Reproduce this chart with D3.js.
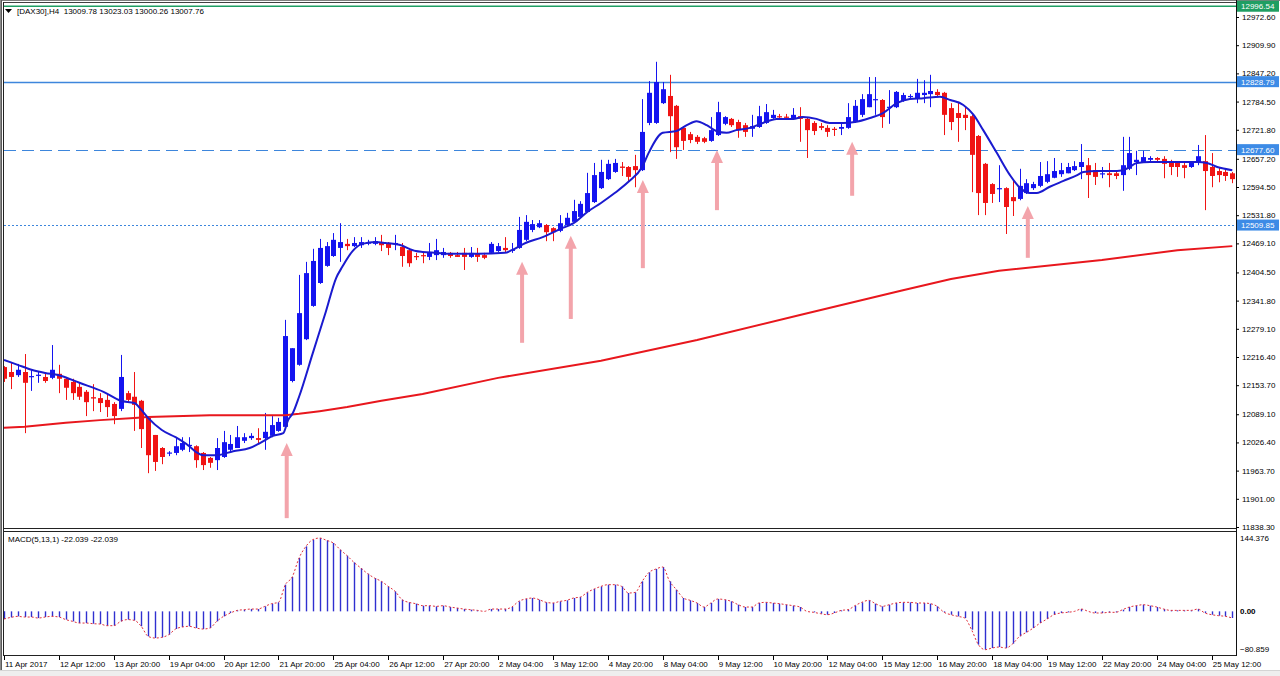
<!DOCTYPE html>
<html>
<head>
<meta charset="utf-8">
<script src="https://cdn.jsdelivr.net/npm/d3@7"></script>
<style>
  body { margin: 0; background: #fff; }
  svg { display: block; }
  text { font-family: "Liberation Sans", Arial, sans-serif; font-size: 8px; fill: #000; }
</style>
</head>
<body>
<div id="chart"></div>
<script>
// ---- data ----
var opens = [
  12194,12183,12176,12183,12172,12175,12172,12170,12179,12168,
  12161,12150,12139,12127,12125,12121,12112,12101,12136,12128,
  12119,12081,12043,12014,12002,12003,12010,12019,12018,12003,
  11992,11987,11994,12010,12014,12030,12036,12036,12036,12041,
  12052,12061,12163,12199,12256,12330,12381,12419,12441,12459,
  12468,12463,12465,12469,12468,12470,12470,12468,12461,12454,
  12441,12443,12439,12443,12443,12448,12443,12448,12439,12446,
  12443,12448,12452,12459,12453,12459,12477,12499,12505,12510,
  12503,12497,12510,12517,12528,12539,12561,12592,12612,12628,
  12640,12639,12641,12632,12737,12737,12781,12797,12775,12726,
  12712,12706,12703,12697,12710,12735,12746,12739,12732,12724,
  12728,12737,12748,12752,12751,12748,12752,12746,12737,12730,
  12726,12724,12724,12726,12739,12755,12772,12788,12788,12771,
  12772,12786,12795,12792,12799,12801,12806,12804,12770,12759,
  12755,12752,12708,12646,12601,12590,12592,12572,12568,12581,
  12592,12597,12606,12615,12623,12625,12632,12639,12643,12632,
  12623,12625,12625,12621,12635,12650,12650,12655,12659,12657,
  12648,12648,12643,12639,12648,12652,12639,12630,12628,12625
];
var highs = [
  12196,12203,12201,12223,12188,12185,12181,12243,12199,12172,
  12168,12159,12143,12156,12136,12132,12116,12221,12141,12183,
  12121,12083,12043,12016,12007,12038,12038,12038,12020,12005,
  11994,12036,12052,12043,12063,12047,12047,12058,12092,12085,
  12081,12299,12236,12399,12428,12457,12479,12472,12492,12514,
  12479,12483,12483,12477,12483,12488,12472,12488,12470,12459,
  12448,12450,12470,12479,12459,12450,12450,12459,12461,12459,
  12448,12472,12470,12483,12470,12528,12532,12521,12521,12512,
  12505,12532,12537,12566,12563,12626,12648,12655,12655,12657,
  12650,12641,12666,12790,12830,12873,12828,12844,12777,12728,
  12717,12710,12706,12750,12784,12752,12748,12744,12737,12755,
  12775,12779,12766,12757,12757,12770,12772,12750,12741,12737,
  12732,12728,12737,12781,12788,12801,12839,12839,12790,12810,
  12808,12804,12801,12835,12832,12844,12812,12806,12781,12784,
  12772,12755,12710,12648,12603,12643,12594,12610,12635,12612,
  12606,12650,12652,12659,12648,12648,12652,12690,12659,12648,
  12639,12648,12632,12706,12706,12675,12675,12663,12661,12663,
  12655,12650,12650,12650,12688,12710,12670,12637,12634,12628
];
var lows = [
  12161,12145,12172,12047,12141,12159,12159,12167,12136,12121,
  12121,12121,12085,12096,12094,12083,12067,12096,12116,12052,
  12014,11958,11963,11978,11996,11998,12007,12005,11970,11965,
  11970,11965,11992,12005,12014,12025,12032,12023,12010,12038,
  12050,12058,12160,12197,12254,12328,12379,12417,12439,12428,
  12454,12461,12459,12465,12465,12452,12443,12454,12417,12417,
  12432,12425,12432,12432,12437,12437,12439,12410,12437,12428,
  12434,12446,12450,12448,12448,12457,12474,12494,12503,12474,
  12474,12494,12508,12517,12526,12539,12559,12590,12610,12626,
  12619,12608,12594,12630,12732,12735,12779,12672,12657,12677,
  12692,12690,12692,12695,12708,12732,12728,12704,12706,12706,
  12726,12735,12746,12748,12748,12744,12695,12659,12710,12721,
  12706,12708,12710,12724,12737,12750,12772,12755,12726,12735,
  12770,12784,12790,12781,12781,12772,12795,12710,12721,12695,
  12721,12583,12532,12532,12559,12561,12490,12530,12565,12579,
  12588,12594,12603,12614,12617,12625,12630,12612,12570,12599,
  12614,12594,12612,12586,12632,12621,12648,12650,12652,12614,
  12621,12617,12614,12637,12643,12543,12594,12605,12608,12603
];
var closes = [
  12168,12172,12188,12159,12174,12177,12163,12188,12168,12148,
  12136,12128,12116,12124,12114,12105,12085,12172,12121,12110,
  12056,11998,11983,11994,12004,12018,12025,12021,11987,11976,
  11981,12014,12027,12023,12038,12038,12041,12032,12050,12065,
  12072,12263,12236,12314,12403,12430,12459,12463,12477,12472,
  12463,12470,12472,12471,12474,12465,12459,12470,12441,12425,
  12439,12441,12448,12454,12450,12441,12439,12439,12448,12439,
  12437,12468,12463,12454,12455,12499,12517,12512,12514,12494,
  12494,12514,12526,12541,12557,12581,12621,12628,12646,12648,
  12637,12617,12632,12717,12804,12828,12812,12752,12683,12697,
  12699,12695,12695,12721,12761,12750,12732,12721,12717,12730,
  12752,12761,12755,12750,12749,12755,12746,12721,12719,12726,
  12717,12722,12728,12750,12775,12790,12801,12790,12750,12773,
  12806,12799,12797,12804,12804,12808,12799,12755,12739,12748,
  12748,12666,12581,12559,12579,12592,12550,12563,12597,12603,
  12601,12619,12623,12630,12632,12639,12641,12650,12621,12617,
  12625,12621,12619,12643,12670,12655,12661,12659,12655,12646,
  12639,12639,12637,12648,12663,12630,12619,12621,12619,12612
];

// fast moving average (blue), read at these bar positions
var fastMaBars = [0,2,4,6,8,11,14.5,17,19,20,21,23,25,27,28,29,31,33.4,35.8,37.3,39.2,40.7,41.4,42.1,43,45,46.9,48.4,49.3,50.8,
  52.2,54.2,55.6,57.6,60,61,63,65,69,73,74,76,78.5,81,83,85,87,89,91,93,94,96,98,99.5,100.9,102.4,103.8,105.3,106.7,108.7,
  110.6,112.6,115,116.4,118.4,120.3,122.3,124,126.2,128.1,130.1,132,134,136.4,137.9,139.8,141.3,142.7,144.7,146.6,148.1,
  149.5,150.5,152.4,154.4,156.4,157.3,159.3,162.2,163.6,165.1,167,169,171.9,173.9,175.3,176.8,179];
var fastMaValues = [12210,12199,12188,12181,12176,12159,12139,12119,12114,12099,12081,12054,12038,12018,12005,11998,11998,12007,12014,12025,
  12041,12047,12076,12092,12128,12225,12317,12392,12417,12452,12468,12472,12470,12466,12452,12450,12448,12446,12446,12448,
  12454,12470,12483,12501,12514,12539,12559,12581,12606,12639,12672,12715,12719,12732,12741,12732,12719,12715,12721,12726,
  12737,12746,12746,12750,12746,12737,12737,12739,12748,12759,12781,12790,12792,12795,12788,12777,12755,12721,12670,12621,
  12592,12581,12581,12595,12608,12621,12628,12630,12630,12635,12648,12650,12650,12650,12650,12648,12639,12632];

// slow moving average (red)
var slowMaBars = [0,3,9,14,19,21,30,41,43,46,50,55,61,72,87,101,116,131,138,145,160,171,179];
var slowMaValues = [12059,12061,12070,12076,12081,12083,12087,12087,12090,12096,12105,12119,12134,12170,12208,12254,12310,12365,12390,12408,12432,12454,12463];

var macdValues = [
  -14.9,-11.7,-9.7,-11,-11,-13,-11,-9.7,-11,-16,
  -19.4,-22.7,-22.7,-24,-24.6,-27.8,-27.8,-19.4,-16,-17.5,
  -29,-48.5,-51.8,-50.5,-45.3,-34.3,-30.4,-29,-32.4,-34.3,
  -32.4,-19.4,-9.7,-3.2,1.9,3.2,4.5,4.5,9.7,14.9,
  17.5,51.8,66.7,103.6,126.2,139.2,142.4,137.9,132.7,119.7,
  108.1,95.1,84.1,73.1,64.7,58.3,48.5,38.8,22.7,17.5,
  14.9,11,11,9.7,11,8.4,6.5,4.5,3.2,1.9,
  0,4.5,4.5,4.5,8.4,19.4,24,25.9,22.7,17.5,
  16.2,19.4,21.4,25.9,27.8,36.9,43.4,48.5,51.8,51.8,
  48.5,35.6,36.9,58.3,75.7,82.2,86.1,58.3,42.1,25.9,
  21.4,16.2,8.4,16.2,24,22.7,19.4,12.9,8.4,8.4,
  16.2,17.5,16.2,14.9,12.9,11,8.4,0,-1.9,-4.5,
  -6.5,-3.2,1.9,3.2,11,17.5,21.4,14.9,9.7,12.9,
  16.2,17.5,17.5,16.2,16.2,14.9,9.7,-1.9,-6.5,-9.7,
  -12.9,-35.6,-64.7,-74.4,-71.2,-69.3,-71.2,-62.8,-48.5,-40.8,
  -32.4,-22.7,-14.9,-6.5,-3.2,-1.9,0,4.5,0,-3.2,
  -3.2,-1.9,-1.9,3.2,8.4,11,12.9,11,8.4,4.5,
  1.9,1.9,1.9,1.9,4.5,-3.2,-6.5,-8.4,-9.7,-12.9
];

var priceTicks = [12972.60,12909.90,12847.20,12784.50,12721.80,12657.20,12594.50,12531.80,12469.10,12404.50,
  12341.80,12279.10,12216.40,12153.70,12089.10,12026.40,11963.70,11901.00,11838.30];
var dateLabels = ["11 Apr 2017","12 Apr 12:00","13 Apr 20:00","19 Apr 04:00","20 Apr 12:00","21 Apr 20:00",
  "25 Apr 04:00","26 Apr 12:00","27 Apr 20:00","2 May 04:00","3 May 12:00","4 May 20:00","8 May 04:00",
  "9 May 12:00","10 May 20:00","12 May 04:00","15 May 12:00","16 May 20:00","18 May 04:00","19 May 12:00",
  "22 May 20:00","24 May 04:00","25 May 12:00"];
var dateLabelBars = d3.range(0, 177, 8);

var levelPrices = [12828.79, 12677.60, 12509.85];
var levelStyles = ["solid", "dashed", "dotted"];
var priceLine = 12996.54;

var arrowBars = [41.2, 75.5, 82.6, 93.1, 103.9, 123.6, 149.2];
var arrowTips = [12025, 12428, 12486, 12610, 12677, 12695, 12552];
var arrowTails = [11858, 12248, 12301, 12414, 12543, 12575, 12437];

var macdTop = 144.376, macdBottom = -80.859;
var headerText = "[DAX30],H4  13009.78 13023.03 13000.26 13007.76";
var macdText = "MACD(5,13,1) -22.039 -22.039";

// ---- layout ----
var W = 1280, H = 676;
var plotRight = 1236;

var x = d3.scaleLinear().domain([0, 179]).range([4, 4 + 179 * 6.862]);
var y = d3.scaleLinear().domain([11838.3, 12972.6]).range([527, 17]);
var yMacd = d3.scaleLinear().domain([macdBottom, macdTop]).range([653, 537]);

var svg = d3.select("#chart").append("svg")
    .attr("width", W)
    .attr("height", H);

svg.append("rect").attr("width", W).attr("height", H).attr("fill", "#fff");

// clip for the price panel
svg.append("clipPath").attr("id", "mainClip")
  .append("rect").attr("x", 4).attr("y", 2).attr("width", plotRight - 4).attr("height", 526);
svg.append("clipPath").attr("id", "macdClip")
  .append("rect").attr("x", 4).attr("y", 532).attr("width", plotRight - 4).attr("height", 123);

var main = svg.append("g").attr("clip-path", "url(#mainClip)");

// horizontal levels
var dashFor = { solid: null, dashed: "12,6", dotted: "2,2" };
main.selectAll("line.level")
  .data(levelPrices)
  .enter().append("line")
  .attr("class", "level")
  .attr("x1", 4).attr("x2", plotRight)
  .attr("y1", d => Math.round(y(d)) + 0.5).attr("y2", d => Math.round(y(d)) + 0.5)
  .attr("stroke", "#3d86dc")
  .attr("stroke-width", (d, i) => i === 0 ? 1.3 : 1)
  .attr("stroke-dasharray", (d, i) => dashFor[levelStyles[i]]);

// current price line (green)
main.append("line")
  .attr("x1", 4).attr("x2", plotRight)
  .attr("y1", y(priceLine)).attr("y2", y(priceLine))
  .attr("stroke", "#1e9e63").attr("stroke-width", 1.5);

// candles
var candles = main.selectAll("g.candle")
  .data(opens.map((o, i) => ({ i: i, o: o, h: highs[i], l: lows[i], c: closes[i] })))
  .enter().append("g")
  .attr("class", "candle");

candles.append("line")
  .attr("x1", d => Math.round(x(d.i)) + 0.5)
  .attr("x2", d => Math.round(x(d.i)) + 0.5)
  .attr("y1", d => y(d.h))
  .attr("y2", d => y(d.l))
  .attr("stroke", d => d.c >= d.o ? "#1414f0" : "#f01414")
  .attr("stroke-width", 1);

candles.append("rect")
  .attr("x", d => Math.round(x(d.i)) - 2)
  .attr("width", 5)
  .attr("y", d => y(Math.max(d.o, d.c)))
  .attr("height", d => Math.max(1.2, Math.abs(y(d.o) - y(d.c))))
  .attr("fill", d => d.c >= d.o ? "#1414f0" : "#f01414");

// moving averages
var maLine = d3.line().x(d => x(d[0])).y(d => y(d[1]));
main.append("path")
  .datum(slowMaBars.map((b, i) => [b, slowMaValues[i]]))
  .attr("d", maLine)
  .attr("fill", "none")
  .attr("stroke", "#e8171d")
  .attr("stroke-width", 2);

main.append("path")
  .datum(fastMaBars.map((b, i) => [b, fastMaValues[i]]))
  .attr("d", maLine.curve(d3.curveMonotoneX))
  .attr("fill", "none")
  .attr("stroke", "#1a1acf")
  .attr("stroke-width", 2);

// pink up arrows
arrowBars.forEach(function(b, i) {
  var ax = x(b), tip = y(arrowTips[i]), tail = y(arrowTails[i]);
  main.append("rect")
    .attr("x", ax - 2).attr("width", 4)
    .attr("y", tip + 12).attr("height", tail - tip - 12)
    .attr("fill", "#f3a4ab");
  main.append("path")
    .attr("d", "M" + (ax - 6) + "," + (tip + 13) + "L" + ax + "," + tip + "L" + (ax + 6) + "," + (tip + 13) + "Z")
    .attr("fill", "#f3a4ab");
});

// MACD panel
var macd = svg.append("g").attr("clip-path", "url(#macdClip)");
macd.selectAll("line.hist")
  .data(macdValues)
  .enter().append("line")
  .attr("class", "hist")
  .attr("x1", (d, i) => Math.round(x(i)) + 0.5)
  .attr("x2", (d, i) => Math.round(x(i)) + 0.5)
  .attr("y1", yMacd(0))
  .attr("y2", d => yMacd(d))
  .attr("stroke", "#3030d0")
  .attr("stroke-width", 1.4);

macd.append("path")
  .datum(macdValues)
  .attr("d", d3.line().x((d, i) => x(i)).y(d => yMacd(d)).curve(d3.curveMonotoneX))
  .attr("fill", "none")
  .attr("stroke", "#e0303c")
  .attr("stroke-width", 1)
  .attr("stroke-dasharray", "2,2");

// frames
function hline(x1, x2, yy, col, sw) {
  svg.append("line").attr("x1", x1).attr("x2", x2).attr("y1", yy).attr("y2", yy)
    .attr("stroke", col).attr("stroke-width", sw || 1);
}
function vline(xx, y1, y2, col, sw) {
  svg.append("line").attr("x1", xx).attr("x2", xx).attr("y1", y1).attr("y2", y2)
    .attr("stroke", col).attr("stroke-width", sw || 1);
}
hline(0, W, 0.5, "#808080");
hline(3, plotRight, 2.5, "#404040");
hline(3, plotRight, 528.5, "#222");
hline(3, plotRight, 531.5, "#222");
hline(3, plotRight, 655.5, "#222");
vline(0.5, 0, 672, "#8a8a8a");
vline(1.5, 0, 672, "#5a5a5a");
vline(3.5, 2, 656, "#222");
vline(plotRight + 0.5, 0, 656, "#111");
svg.append("rect").attr("x", 0).attr("y", 670).attr("width", W).attr("height", 6).attr("fill", "#eeeeee");
hline(0, W, 670.5, "#d4d4d4");

// price axis
var priceAxis = d3.axisRight(y)
  .tickValues(priceTicks)
  .tickFormat(d3.format(".2f"))
  .tickSize(3)
  .tickPadding(3);
svg.append("g")
  .attr("transform", "translate(" + plotRight + ",0)")
  .call(priceAxis)
  .call(g => g.select(".domain").remove())
  .call(g => g.selectAll("text").attr("font-size", 8).attr("font-family", "Liberation Sans, Arial, sans-serif").attr("fill", "#000"))
  .call(g => g.selectAll("line").attr("stroke", "#000"));

// price tags on the axis
function priceTag(val, col) {
  var yy = y(val);
  svg.append("rect")
    .attr("x", plotRight + 1).attr("y", yy - 5.5)
    .attr("width", W - plotRight - 2).attr("height", 11)
    .attr("fill", col);
  svg.append("text")
    .attr("x", plotRight + 5).attr("y", yy + 3)
    .style("fill", "#fff")
    .text(d3.format(".2f")(val));
}
levelPrices.forEach(p => priceTag(p, "#3d8be6"));
priceTag(priceLine, "#1f9e62");

// MACD axis labels
[macdTop, 0, macdBottom].forEach(function(v, i) {
  var label = i === 1 ? "0.00" : d3.format(".3f")(v);
  var yy = i === 0 ? yMacd(v) + 4 : (i === 2 ? yMacd(v) - 1 : yMacd(v) + 3);
  svg.append("text")
    .attr("x", plotRight + 4).attr("y", yy)
    .style("font-weight", i === 1 ? "bold" : "normal")
    .text(label);
});

// time axis
var timeAxis = svg.append("g");
timeAxis.selectAll("line")
  .data(dateLabelBars)
  .enter().append("line")
  .attr("x1", d => Math.round(x(d)) + 0.5).attr("x2", d => Math.round(x(d)) + 0.5)
  .attr("y1", 656).attr("y2", 660)
  .attr("stroke", "#000");
timeAxis.selectAll("text")
  .data(dateLabelBars)
  .enter().append("text")
  .attr("x", d => x(d) + 1)
  .attr("y", 667)
  .text((d, i) => dateLabels[i]);

// headers
svg.append("path").attr("d", "M5,9L12,9L8.5,13Z").attr("fill", "#000");
svg.append("text").attr("x", 17).attr("y", 14).attr("xml:space", "preserve").text(headerText);
svg.append("text").attr("x", 8).attr("y", 542).text(macdText);
</script>
</body>
</html>
